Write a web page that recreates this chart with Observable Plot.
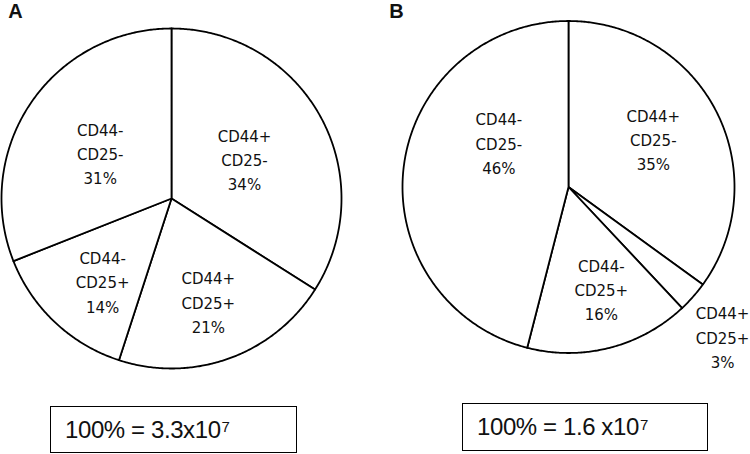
<!DOCTYPE html>
<html>
<head>
<meta charset="utf-8">
<script src="https://cdn.jsdelivr.net/npm/d3@7"></script>
<script src="https://cdn.jsdelivr.net/npm/@observablehq/plot@0.6"></script>
<style>
  html, body { margin: 0; padding: 0; background: #fff; }
  #wrap { position: relative; width: 750px; height: 454px; overflow: hidden; }
  #wrap svg { position: absolute; left: 0; top: 0; }
  .box { position: absolute; box-sizing: border-box; border: 1.5px solid #000; background: #fff;
         font-family: "Liberation Sans", Arial, sans-serif; font-size: 24px; color: #111;
         display: flex; align-items: center; padding-left: 14px; letter-spacing: -0.4px; }
  .box sup { font-size: 15px; position: relative; top: -3px; vertical-align: top; line-height: 1; margin-left: 1px; }
</style>
</head>
<body>
<div id="wrap"></div>
<script>
// ---- data ----
const panels = ["A", "B"];
const categories = ["CD44+\nCD25-", "CD44+\nCD25+", "CD44-\nCD25+", "CD44-\nCD25-"];
const categoriesB = ["CD44+\nCD25-", "CD44+\nCD25+", "CD44-\nCD25+", "CD44-\nCD25-"];
const valuesA = [34, 21, 14, 31];
const valuesB = [35, 3, 16, 46];
const totalMantissa = ["3.3x10", "1.6 x10"];
const totalExponent = ["7", "7"];

// ---- layout (not data) ----
const layout = {
  A: {cx: 171, cy: 198, r: 170, labelR: [0.49, 0.64, 0.63, 0.50], labelAng: [null, null, 220, 303],
      box: {left: 50, top: 406, width: 247, height: 47}},
  B: {cx: 568, cy: 186.5, r: 166, labelR: [0.59, 1.29, 0.64, 0.50], labelAng: [60, 134, 162, 303],
      box: {left: 462, top: 403, width: 246, height: 48}}
};

const seriesByPanel = {
  A: categories.map((c, i) => ({panel: "A", cat: c, value: valuesA[i]})),
  B: categoriesB.map((c, i) => ({panel: "B", cat: c, value: valuesB[i]}))
};

const pie = d3.pie().sort(null).value(d => d.value).startAngle(0).endAngle(2 * Math.PI);

const slicePts = [];
const labels = [];
for (const p of panels) {
  const L = layout[p];
  const arcs = pie(seriesByPanel[p]);
  arcs.forEach((a, i) => {
    const key = p + i;
    slicePts.push({key, x: L.cx, y: L.cy});
    const n = Math.max(2, Math.ceil((a.endAngle - a.startAngle) / (Math.PI / 360)));
    for (let k = 0; k <= n; k++) {
      const t = a.startAngle + (a.endAngle - a.startAngle) * k / n;
      slicePts.push({key, x: L.cx + L.r * Math.sin(t), y: L.cy - L.r * Math.cos(t)});
    }
    const mid = L.labelAng[i] != null ? L.labelAng[i] * Math.PI / 180 : (a.startAngle + a.endAngle) / 2;
    const rr = L.labelR[i] * L.r;
    labels.push({
      x: L.cx + rr * Math.sin(mid),
      y: L.cy - rr * Math.cos(mid),
      text: a.data.cat + "\n" + a.data.value + "%"
    });
  });
}

const panelLabels = panels.map((p, i) => ({text: p, x: i === 0 ? 15 : 396, y: 11}));

const plot = Plot.plot({
  width: 750,
  height: 400,
  margin: 0,
  x: {domain: [0, 750], range: [0, 750], axis: null},
  y: {domain: [0, 400], range: [0, 400], axis: null},
  style: {background: "transparent"},
  marks: [
    Plot.line(slicePts, {x: "x", y: "y", z: "key", curve: "linear-closed",
      fill: "white", stroke: "black", strokeWidth: 1.8, strokeLinejoin: "round"}),
    Plot.text(labels, {x: "x", y: "y", text: "text", lineHeight: 1.62,
      fontSize: 15, fontFamily: "DejaVu Sans, Verdana, sans-serif", fill: "#111"}),
    Plot.text(panelLabels, {x: "x", y: "y", text: "text", fontSize: 20, fontWeight: "bold",
      fontFamily: "Liberation Sans, Arial, sans-serif", fill: "#111"})
  ]
});

const wrap = document.getElementById("wrap");
wrap.appendChild(plot);
panels.forEach((p, i) => {
  const b = layout[p].box;
  const div = document.createElement("div");
  div.className = "box";
  div.style.left = b.left + "px";
  div.style.top = b.top + "px";
  div.style.width = b.width + "px";
  div.style.height = b.height + "px";
  div.innerHTML = "100% = " + totalMantissa[i] + "<sup>" + totalExponent[i] + "</sup>";
  wrap.appendChild(div);
});
</script>
</body>
</html>
